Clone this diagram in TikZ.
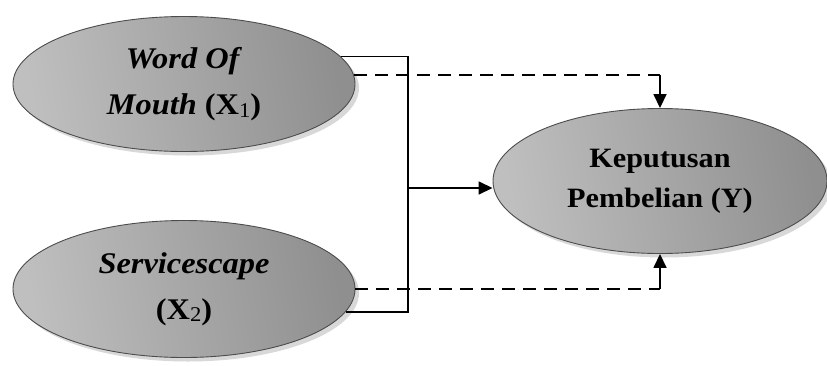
\documentclass[tikz,border=0pt]{standalone}
\usepackage{fontspec}
\setmainfont{Liberation Serif}[FakeStretch=1.08]
\usetikzlibrary{shapes.geometric,shadows,arrows.meta}
\tikzset{
  var/.style={ellipse, draw=gray!60!black, line width=0.9pt, inner sep=0pt,
    left color=gray!50, middle color=gray!32, right color=gray!88, shading angle=100,
    drop shadow={shadow xshift=4pt, shadow yshift=-4pt, fill=gray!60},
    align=center, font=\bfseries\fontsize{30}{46}\selectfont},
  link/.style={line width=1.6pt},
  tip/.style={link, -{Triangle[length=14pt,width=13pt]}},
  dashlink/.style={link, dash pattern=on 13pt off 8pt}
}
\newcommand{\sub}[1]{\raisebox{-0.2ex}{\fontsize{21}{21}\mdseries\selectfont #1}}
\begin{document}
\begin{tikzpicture}[x=1pt,y=-1pt]
  \useasboundingbox (0,0) rectangle (827,365);
  \node[var, minimum width=342pt, minimum height=135pt] (wom) at (184,84)
    {\textit{Word Of}\\ \textit{Mouth} (X\sub{1})};
  \node[var, minimum width=342pt, minimum height=137pt] (svc) at (184,289)
    {\textit{Servicescape}\\ (X\sub{2})};
  \node[var, minimum width=334pt, minimum height=145pt, font=\bfseries\fontsize{28}{40}\selectfont] (kp) at (660,181)
    {Keputusan\\ Pembelian (Y)};
  \coordinate (trunk) at (408,188);
  \draw[link] (wom.10) -| (trunk) |- (svc.-8);
  \draw[tip] (trunk) -- (trunk -| kp.west);
  \draw[dashlink] (wom.3) -- (kp.north |- wom.3) coordinate (d1);
  \draw[tip] (d1) -- (kp.north);
  \draw[dashlink] (svc.east) -- (kp.south |- svc.east) coordinate (d2);
  \draw[tip] (d2) -- (kp.south);
\end{tikzpicture}
\end{document}
